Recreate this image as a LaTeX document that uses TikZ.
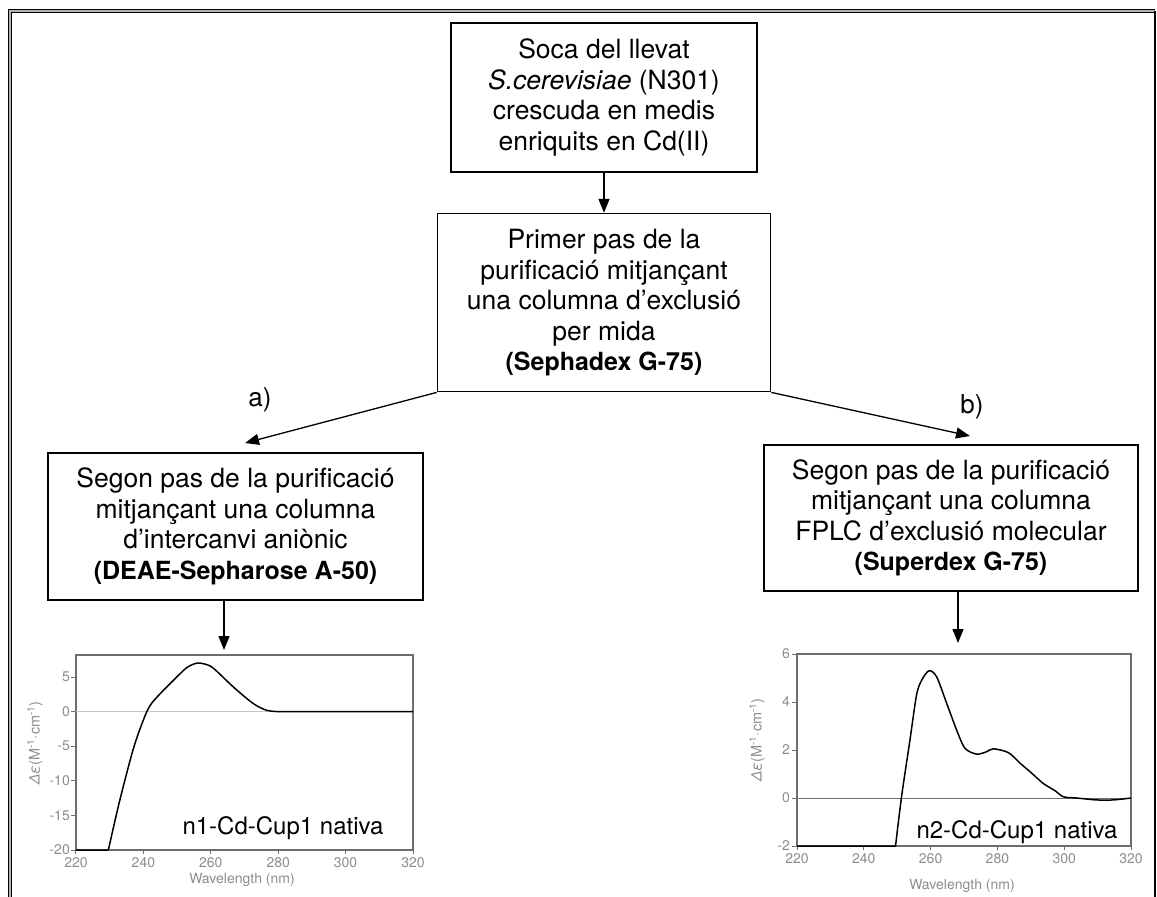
\documentclass[tikz,border=0pt]{standalone}
\usepackage{fontspec}
\setmainfont{TeX Gyre Heros}
\usepackage{xcolor}
\usepackage{tikz}
\usetikzlibrary{arrows.meta}
\usetikzlibrary{positioning}
\definecolor{axisGray}{HTML}{6E6E6E}
\definecolor{labelGray}{HTML}{8C8C8C}
\newcommand{\colname}[1]{{\fontsize{25}{30.5}\selectfont\textbf{#1}}}
\tikzset{>={Triangle[length=14pt,width=11pt]}}
\tikzset{flow-line/.style={line width=1.3pt}}
\tikzset{flow-box/.style={draw, line width=1.6pt, inner sep=0, align=center,
    font=\fontsize{26.5}{30.5}\selectfont}}
\tikzset{branch-label/.style={font=\fontsize{26}{30}\selectfont, inner sep=0}}
\tikzset{plot-frame/.style={draw=axisGray, line width=1.4pt, inner sep=0}}
\tikzset{tick-label/.style={text=labelGray, font=\fontsize{14}{16}\selectfont, inner sep=1pt}}
\tikzset{axis-title/.style={text=labelGray, font=\fontsize{14.5}{16}\selectfont, inner sep=0}}
\tikzset{cd-curve/.style={line width=1.5pt, line join=round}}
\tikzset{curve-name/.style={font=\fontsize{24}{28}\selectfont, inner sep=0}}

\begin{document}
\begin{tikzpicture}[x=1pt, y=-1pt]
    \useasboundingbox (0,0) rectangle (1157,897);

    % frame
    \draw[line width=1.5pt, double=gray!60, double distance=1.5pt] (10,897) -- (10,11) -- (1155,11);
    \draw[line width=2pt] (1155,11) -- (1155,897);

    \node[flow-box, minimum width=306pt, minimum height=149pt] (soca) at (604,97.5)
        {Soca del llevat\\ \textit{S.cerevisiae} (N301)\\ crescuda en medis\\ enriquits en Cd(II)};
    \node[flow-box, minimum width=333pt, minimum height=178pt, below=40pt of soca] (sephadex)
        {Primer pas de la\\ purificació mitjançant\\ una columna d’exclusió\\ per mida\\ \colname{(Sephadex G-75)}};
    \node[flow-box, minimum width=375pt, minimum height=147pt] (deae) at (235.5,526.5)
        {Segon pas de la purificació\\ mitjançant una columna\\ d’intercanvi aniònic\\ \colname{(DEAE-Sepharose A-50)}};
    \node[flow-box, minimum width=374pt, minimum height=146pt] (superdex) at (951,518)
        {Segon pas de la purificació\\ mitjançant una columna\\ FPLC d’exclusió molecular\\ \colname{(Superdex G-75)}};

    \node[branch-label] (labela) at (260,400) {a)};
    \node[branch-label] (labelb) at (972,407) {b)};

    \node[plot-frame, minimum width=337pt, minimum height=195pt] (plotA) at (244.5,752.5) {};
    \node[plot-frame, minimum width=334pt, minimum height=192pt] (plotB) at (964,750) {};

    \coordinate (tipa) at (245,443);
    \coordinate (tipb) at (970,436);
    \coordinate (tipA) at (224,650);
    \coordinate (tipB) at (958,643);

    \draw[->, flow-line] (soca.south) -- (sephadex.north);
    \draw[->, flow-line] (sephadex.south west) -- (tipa);
    \draw[->, flow-line] (sephadex.south east) -- (tipb);
    \draw[->, flow-line] (deae.south -| tipA) -- (tipA);
    \draw[->, flow-line] (superdex.south -| tipB) -- (tipB);

    % n1 spectrum
    \begin{scope}[shift={(-665.4,711.6)}, x=3.37pt, y=6.92pt]
        \draw[gray!45, line width=0.9pt] (220,0) -- (320,0);
        \foreach \v in {-20,-15,...,5} {
            \draw[axisGray, line width=1pt] (220,\v) -- ++(-5pt,0pt);
            \node[tick-label, anchor=east] (ytickA\v) at ([xshift=-5pt]220,\v) {\v};
        }
        \foreach \w in {220,240,...,320} {
            \draw[axisGray, line width=1pt] (\w,-20) -- ++(0pt,-4pt);
            \node[tick-label, anchor=north] (xtickA\w) at ([yshift=-6pt]\w,-20) {\w};
        }
        \draw[cd-curve] (220,-20) -- (229.6,-20)
            plot[smooth, tension=0.5] coordinates {(229.6,-20) (233,-12.8) (237,-5.4) (240,-1.2)
            (242,0.9) (245,2.6) (249.9,5.0) (253,6.4) (255.8,7.0) (258,6.9) (260.7,6.3)
            (266.6,3.6) (272.5,1.2) (276.5,0.2) (280,0)} -- (320,0);
    \end{scope}
    \node[axis-title, rotate=90] (yTitleA) at (35,743) {\textit{Δε}(M\textsuperscript{-1}·cm\textsuperscript{-1})};
    \node[tick-label] (xTitleA) at (242,880) {Wavelength (nm)};
    \node[curve-name] (nameA) at (283,828) {n1-Cd-Cup1 nativa};

    % n2 spectrum
    \begin{scope}[shift={(62.2,798)}, x=3.34pt, y=24pt]
        \draw[axisGray, line width=1pt] (220,0) -- (320,0);
        \foreach \v in {-2,0,...,6} {
            \draw[axisGray, line width=1pt] (220,\v) -- ++(-5pt,0pt);
            \node[tick-label, anchor=east] (ytickB\v) at ([xshift=-6pt]220,\v) {\v};
        }
        \foreach \w in {220,240,...,320} {
            \draw[axisGray, line width=1pt] (\w,-2) -- ++(0pt,-4pt);
            \node[tick-label, anchor=north] (xtickB\w) at ([yshift=-6pt]\w,-2) {\w};
        }
        \draw[cd-curve] (220,-2) -- (249.5,-2)
            plot[smooth, tension=0.5] coordinates {(249.5,-2) (251.3,0.05) (253.8,2.4) (255.8,4.3)
            (257.3,4.9) (259.5,5.3) (261.8,5.05) (264.8,3.95) (267.8,2.83) (270.3,2.07)
            (273.8,1.83) (276.8,1.93) (278.8,2.05) (283.3,1.89) (286.8,1.45) (290.3,1.03)
            (293.8,0.6) (297.3,0.3) (299.8,0.05) (303.7,0) (309.7,-0.08) (314.7,-0.08) (320,0)};
    \end{scope}
    \node[axis-title, rotate=90] (yTitleB) at (757,740) {\textit{Δε}(M\textsuperscript{-1}·cm\textsuperscript{-1})};
    \node[tick-label] (xTitleB) at (962,886) {Wavelength (nm)};
    \node[curve-name] (nameB) at (1017,832) {n2-Cd-Cup1 nativa};
\end{tikzpicture}
\end{document}
